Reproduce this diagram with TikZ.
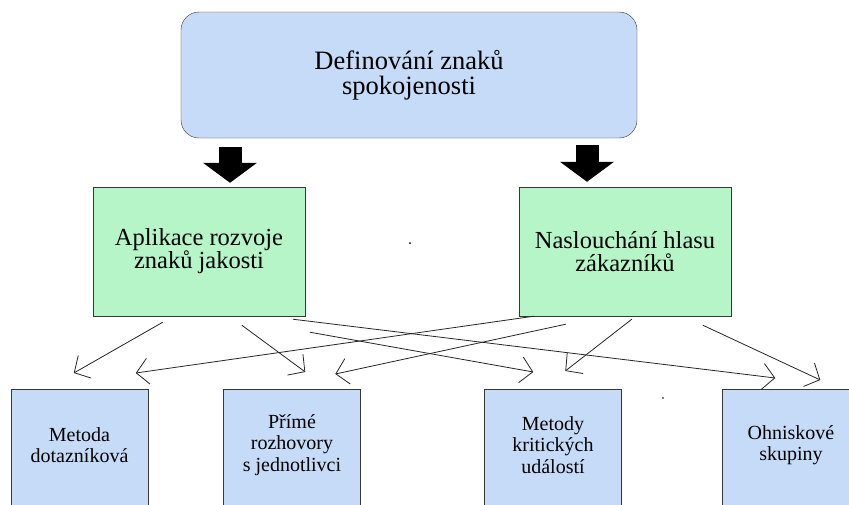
\documentclass[tikz,border=0pt]{standalone}
\usepackage{fontspec}
\setmainfont{Liberation Serif}
\usetikzlibrary{arrows.meta,calc}

\definecolor{boxblue}{RGB}{198,219,248}
\definecolor{boxgreen}{RGB}{181,245,200}
\definecolor{edgegray}{RGB}{55,55,55}

\begin{document}
\begin{tikzpicture}[x=1pt,y=-1pt,
    top box/.style={draw=edgegray,fill=boxblue,rounded corners=18pt,inner sep=0pt,minimum width=456pt,minimum height=126pt,align=center,font=\fontsize{26.5}{25}\selectfont},
    mid box/.style={draw=edgegray,fill=boxgreen,inner sep=0pt,minimum width=212pt,minimum height=129pt,align=center,font=\fontsize{24.5}{23}\selectfont},
    low box/.style={draw=edgegray,fill=boxblue,inner sep=0pt,minimum width=137pt,minimum height=150pt,anchor=north},
    low text/.style={align=center,inner sep=0pt,font=\fontsize{20}{21.5}\selectfont},
    big arrow/.style={line width=23pt,-{Triangle[length=20pt,width=53pt]}},
    thin arrow/.style={draw=black!85,line width=0.8pt,-{Straight Barb[length=12pt,width=26pt]}}]
    \clip (0,0) rectangle (849,504);

    \node[top box] (top) at (409,75) {Definování znaků\\spokojenosti};
    \node[mid box] (apl) at (199,251.5) {Aplikace rozvoje\\znaků jakosti};
    \node[mid box] (nas) at (625,251.5) {Naslouchání hlasu\\zákazníků};

    \node[low box] (m1) at (79.5,389) {};
    \node[low box] (m2) at (292,389) {};
    \node[low box] (m3) at (553,389) {};
    \node[low box] (m4) at (791,389) {};
    \node[low text] (m1t) at (79.5,445) {Metoda\\dotazníková};
    \node[low text] (m2t) at (292,445) {Přímé\\rozhovory\\s jednotlivci};
    \node[low text] (m3t) at (553,445) {Metody\\kritických\\událostí};
    \node[low text] (m4t) at (791,445) {Ohniskové\\skupiny};

    % stray dots
    \fill (410,243) circle (1pt);
    \fill (663,398) circle (0.8pt);

    \draw[big arrow] ($(top.south)+(-179,9)$) -- ($(apl.north)+(31,-4)$);
    \draw[big arrow] ($(top.south)+(178,7)$) -- ($(nas.north)+(-38,-5)$);

    \draw[thin arrow] ($(apl.south west)+(70,6)$) -- ($(m1.north west)+(63,-16)$);
    \draw[thin arrow] ($(apl.south west)+(149,9)$) -- ($(m2.north west)+(82,-17)$);
    \draw[thin arrow] ($(apl.south west)+(217,16)$) -- ($(m3.north west)+(49,-17)$);
    \draw[thin arrow] ($(apl.south west)+(200,3)$) -- ($(m4.north west)+(53,-11)$);

    \draw[thin arrow] ($(nas.south west)+(15,0)$) -- ($(m1.north west)+(125,-16)$);
    \draw[thin arrow] ($(nas.south west)+(47,8)$) -- ($(m2.north west)+(112,-15)$);
    \draw[thin arrow] ($(nas.south west)+(113,3)$) -- ($(m3.north west)+(81,-18)$);
    \draw[thin arrow] ($(nas.south west)+(184,9)$) -- ($(m4.north west)+(98,-9)$);
\end{tikzpicture}
\end{document}
